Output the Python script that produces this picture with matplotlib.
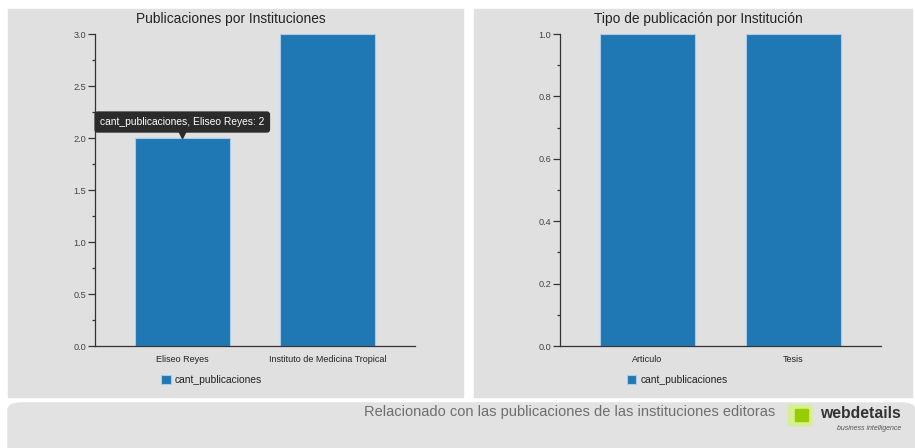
import matplotlib
matplotlib.use("Agg")
import matplotlib.pyplot as plt
from matplotlib.patches import FancyBboxPatch, Rectangle
from matplotlib.ticker import MultipleLocator
from matplotlib.transforms import offset_copy

plt.rcParams["font.family"] = ["Liberation Sans", "DejaVu Sans"]

# ── Data ─────────────────────────────────────────────
instituciones = ["Eliseo Reyes", "Instituto de Medicina Tropical"]
pub_por_inst = [2, 3]
tipos = ["Articulo", "Tesis"]
pub_por_tipo = [1, 1]
serie = "cant_publicaciones"

BAR = "#1f77b4"
PANEL = "#e0e0e0"
W, H = 915, 448

fig = plt.figure(figsize=(W / 100, H / 100), dpi=100, facecolor="white")


def px_box(x0, y0, x1, y1):
    """pixel box (top-left origin) -> figure fraction rect"""
    return [x0 / W, 1 - y1 / H, (x1 - x0) / W, (y1 - y0) / H]


# panel backgrounds
for (x0, y0, x1, y1) in [(8, 9, 463, 397), (474, 9, 912, 397)]:
    fig.patches.append(Rectangle((x0 / W, 1 - y1 / H), (x1 - x0) / W, (y1 - y0) / H,
                                 transform=fig.transFigure, color=PANEL, zorder=-2))
fig.patches.append(FancyBboxPatch((8 / W, -0.05), (W - 8) / W, (448 - 403) / H + 0.05,
                                  boxstyle="round,pad=0,rounding_size=0.015",
                                  transform=fig.transFigure, color="#e2e2e2", zorder=-2))


def bar_panel(box, cats, vals, ymax, major, minor, title, title_x):
    ax = fig.add_axes(px_box(*box))
    ax.set_zorder(2)
    ax.set_facecolor("none")
    ax.bar(range(len(cats)), vals, width=0.65, color=BAR,
           edgecolor="#a9cbe6", linewidth=0.8, label=serie, zorder=2)
    ax.set_xlim(-0.6, 1.6)
    ax.set_ylim(0, ymax)
    ax.set_xticks(range(len(cats)))
    ax.set_xticklabels(cats)
    ax.yaxis.set_major_locator(MultipleLocator(major))
    ax.yaxis.set_minor_locator(MultipleLocator(minor))
    ax.yaxis.set_major_formatter(plt.FuncFormatter(lambda v, _: f"{v:.1f}"))
    for s in ["top", "right"]:
        ax.spines[s].set_visible(False)
    for s in ["left", "bottom"]:
        ax.spines[s].set_color("#333333")
        ax.spines[s].set_linewidth(0.9)
    ax.tick_params(axis="y", which="major", length=5, width=0.9, labelsize=6.6,
                   pad=1.2, labelcolor="#444444", color="#333333")
    ax.tick_params(axis="y", which="minor", length=2.5, width=0.9, color="#333333")
    ax.tick_params(axis="x", length=0, labelsize=6.5, pad=6.5, labelcolor="#222222")
    ax.legend(loc="center", bbox_to_anchor=(0.365, -0.108), frameon=False,
              handlelength=0.95, handleheight=0.95, handletextpad=0.4,
              prop={"size": 7.4}, labelcolor="#222222")
    fig.text(title_x / W, 1 - 19 / H, title, ha="center", va="center",
             fontsize=9.9, color="#222222")
    return ax


ax1 = bar_panel((95, 34, 415, 346), instituciones, pub_por_inst, 3.0, 0.5, 0.25,
                "Publicaciones por Instituciones", 231)
ax2 = bar_panel((560, 34, 881, 346), tipos, pub_por_tipo, 1.0, 0.2, 0.1,
                "Tipo de publicación por Institución", 698)

# tooltip sobre la barra de Eliseo Reyes
ax1.annotate(f"{serie}, {instituciones[0]}: {pub_por_inst[0]}",
             xy=(0, pub_por_inst[0]), xytext=(0, 11.5), textcoords="offset points",
             ha="center", va="center", fontsize=7.4, color="white", zorder=5,
             bbox=dict(boxstyle="round,pad=0.55,rounding_size=0.3", fc="#2b2b2b", ec="none"))
ax1.plot([0], [pub_por_inst[0]], marker="v", ms=6, color="#2b2b2b", zorder=5,
         clip_on=False, transform=offset_copy(ax1.transData, fig, y=4, units="dots"))

# footer
fig.text(775 / W, 1 - 412 / H,
         "Relacionado con las publicaciones de las instituciones editoras",
         ha="right", va="center", fontsize=10.5, color="#6e6e6e")
fig.patches.append(FancyBboxPatch((788 / W, 1 - 426 / H), 24 / W, 21 / H,
                                  boxstyle="round,pad=0,rounding_size=0.006",
                                  transform=fig.transFigure, color="#d6ef8f", zorder=1))
fig.patches.append(Rectangle((795 / W, 1 - 421 / H), 13 / W, 12 / H,
                             transform=fig.transFigure, color="#99cc00", zorder=2))
fig.text(901 / W, 1 - 413 / H, "webdetails", ha="right", va="center",
         fontsize=11.3, fontweight="bold", color="#333333")
fig.text(901 / W, 1 - 428 / H, "business intelligence", ha="right", va="center",
         fontsize=5, style="italic", color="#555555")

fig.savefig("out.png", dpi=100, facecolor="white")
